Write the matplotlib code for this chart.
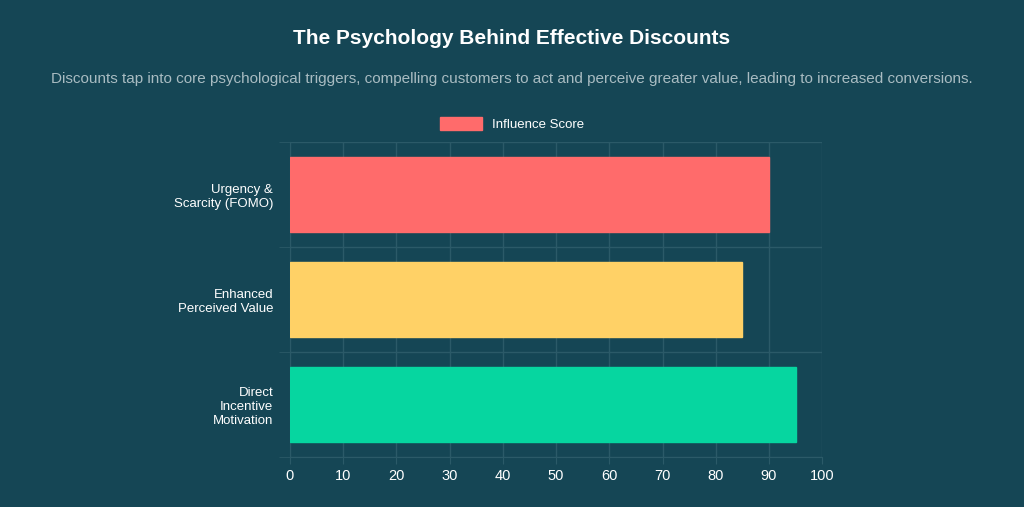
import matplotlib.pyplot as plt
from matplotlib.patches import Patch

categories = ["Urgency &\nScarcity (FOMO)", "Enhanced\nPerceived Value", "Direct\nIncentive\nMotivation"]
scores = [90, 85, 95]
colors = ["#ff6b6b", "#ffd166", "#06d6a0"]
x_ticks = [0, 10, 20, 30, 40, 50, 60, 70, 80, 90, 100]

bg = "#154655"
grid = "#2b5a68"
plt.rcParams["font.family"] = "Liberation Sans"

fig = plt.figure(figsize=(10.24, 5.07), dpi=100, facecolor=bg)
ax = fig.add_axes([0.283, 0.099, 0.52, 0.621], facecolor=bg)

y = list(range(len(categories)))
ax.barh(y, scores, height=0.72, color=colors, edgecolor=colors, zorder=3)
ax.set_ylim(len(categories) - 0.5, -0.5)
ax.set_xlim(0, 100)
ax.set_xticks(x_ticks)
ax.set_yticks(y)
ax.set_yticklabels(categories, color="white", fontsize=9.5, ha="right")
ax.tick_params(axis="x", colors=grid, labelcolor="white", labelsize=10.5, length=5)
ax.tick_params(axis="y", colors=grid, labelcolor="white", length=0, pad=12)
ax.set_yticks([-0.5, 0.5, 1.5, 2.5], minor=True)
ax.tick_params(axis="y", which="minor", length=8, color=grid)
ax.grid(axis="x", color=grid, linewidth=1, zorder=0)
ax.grid(axis="y", which="minor", color=grid, linewidth=1, zorder=0)
for s in ax.spines.values():
    s.set_color(grid)
ax.spines["top"].set_visible(False)
ax.spines["right"].set_visible(False)

fig.text(0.5, 0.925, "The Psychology Behind Effective Discounts", ha="center", va="center",
         color="white", fontsize=15, fontweight="bold")
fig.text(0.5, 0.845, "Discounts tap into core psychological triggers, compelling customers to act and perceive greater value, leading to increased conversions.",
         ha="center", va="center", color="#a9bcc2", fontsize=11)
fig.legend(handles=[Patch(facecolor=colors[0], edgecolor=colors[0], label="Influence Score")],
           loc="center", bbox_to_anchor=(0.5, 0.755), frameon=False, labelcolor="white",
           fontsize=9.5, handlelength=3.2, handleheight=1.1)

fig.savefig("out.png", dpi=100, facecolor=bg)
